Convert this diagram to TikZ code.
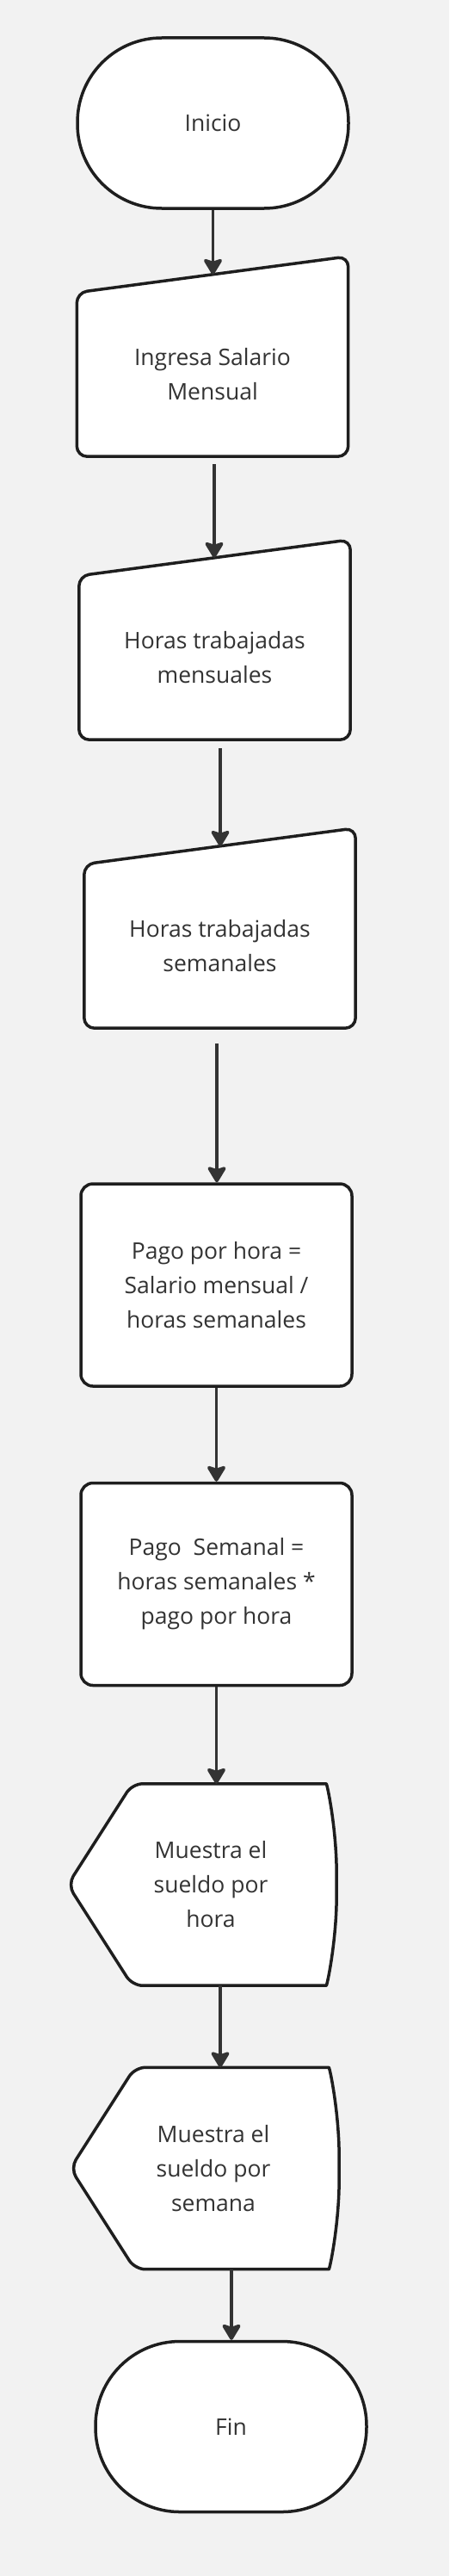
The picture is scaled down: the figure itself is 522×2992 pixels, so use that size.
\documentclass[tikz,border=0pt]{standalone}
\usepackage{fontspec}
\setmainfont{Open Sans}
\usetikzlibrary{arrows.meta,backgrounds}
\definecolor{fondo}{HTML}{F2F2F2}
\definecolor{borde}{HTML}{1E1E1E}
\definecolor{linea}{HTML}{333333}
\definecolor{letra}{HTML}{333333}

\begin{document}
\begin{tikzpicture}[x=1pt,y=-1pt,
  every node/.style={font=\fontsize{26.5}{40}\selectfont,text=letra,align=center,inner sep=0pt},
  terminal/.style={draw=borde,line width=3.5pt,fill=white,rounded corners=98pt,minimum width=315pt,minimum height=198pt},
  proceso/.style={draw=borde,line width=3.5pt,fill=white,rounded corners=14pt,minimum width=315pt,minimum height=235pt},
  entrada/.style={minimum width=315pt,minimum height=190pt},
  salida/.style={minimum width=292pt,minimum height=234pt},
  forma/.style={draw=borde,line width=3.5pt,fill=white,rounded corners=12pt,line join=round},
  flecha/.style={draw=linea,line width=3.8pt,-{Stealth[width=25pt,length=21pt,inset=4pt,round]}}]
  \useasboundingbox (0,0) rectangle (522,2992);

  % Inicio
  \node[terminal] (ini) at (247.5,143) {Inicio};

  % Entradas manuales (el borde inclinado se dibuja abajo)
  \node[entrada] (ing) at (247,435) {Ingresa Salario\\Mensual};
  \node[entrada] (hm) at (249.5,764) {Horas trabajadas\\mensuales};
  \node[entrada] (hs) at (255.5,1099) {Horas trabajadas\\semanales};

  % Procesos
  \node[proceso] (ph) at (251.5,1492.5) {Pago por hora =\\Salario mensual /\\horas semanales};
  \node[proceso] (ps) at (251.5,1840) {Pago\ \ Semanal =\\horas semanales *\\pago por hora};

  % Salidas por pantalla
  \node[salida] (m1) at (245,2189) {Muestra el\\sueldo por\\hora};
  \node[salida] (m2) at (248,2518.5) {Muestra el\\sueldo por\\semana};

  % Fin
  \node[terminal] (fin) at (268.5,2818.5) {Fin};

  % Fondo y contornos de las formas especiales
  \begin{pgfonlayer}{background}
    \fill[fondo] (0,0) rectangle (522,2992);
    \foreach \n in {ing,hm,hs}
      \draw[forma] (\n.south west) -- (\n.north west) -- ([yshift=42pt]\n.north east) -- (\n.south east) -- cycle;
    \foreach \n in {m1,m2}
      \draw[forma] ([xshift=-20pt]\n.west) -- ([xshift=55pt]\n.north west) -- ([xshift=-24pt]\n.north east)
        .. controls ([xshift=-11pt]\n.north east) and ([yshift=65pt]\n.east) .. (\n.east)
        .. controls ([yshift=-65pt]\n.east) and ([xshift=-11pt]\n.south east) .. ([xshift=-24pt]\n.south east)
        -- ([xshift=55pt]\n.south west) -- cycle;
  \end{pgfonlayer}

  % Flechas
  \foreach \de/\a/\dx/\dy/\gap in {ini/ing/0pt/21pt/0pt, ing/hm/2pt/21pt/9pt, hm/hs/6.5pt/21pt/10pt,
      hs/ph/-3.5pt/0pt/18pt, ph/ps/0pt/0pt/0pt, ps/m1/0pt/0pt/0pt, m1/m2/11pt/0pt/0pt, m2/fin/21pt/0pt/0pt}
    \draw[flecha,shorten <=\gap] ([xshift=\dx]\de.south) -- ([xshift=\dx,yshift=\dy]\de.south |- \a.north);
\end{tikzpicture}
\end{document}
